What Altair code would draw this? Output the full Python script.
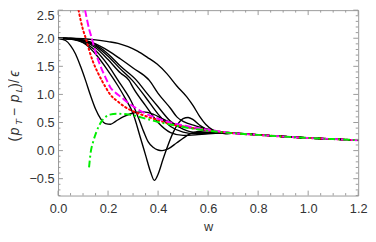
import altair as alt
import pandas as pd

# ---- data ----
late_w = [0.7, 0.8, 0.9, 1.0, 1.1, 1.2]
late_y = [0.31, 0.28, 0.25, 0.225, 0.205, 0.185]

A_w = [0, 0.03, 0.05, 0.07, 0.09, 0.11, 0.13, 0.15, 0.17, 0.19, 0.21, 0.23, 0.26, 0.3, 0.34, 0.38, 0.42, 0.46, 0.5, 0.55, 0.6, 0.65]
A_y = [2.0, 1.96, 1.87, 1.72, 1.5, 1.25, 0.98, 0.74, 0.57, 0.48, 0.47, 0.52, 0.6, 0.67, 0.69, 0.65, 0.56, 0.48, 0.43, 0.39, 0.36, 0.33]

C_w = [0, 0.05, 0.1, 0.15, 0.2, 0.24, 0.27, 0.3, 0.33, 0.35, 0.37, 0.385, 0.4, 0.42, 0.44, 0.46, 0.48, 0.5, 0.52, 0.54, 0.57, 0.6, 0.65]
C_y = [2.0, 1.985, 1.92, 1.72, 1.42, 1.15, 0.92, 0.66, 0.22, -0.08, -0.38, -0.53, -0.42, -0.15, 0.1, 0.32, 0.48, 0.57, 0.59, 0.55, 0.44, 0.37, 0.33]

D_w = [0, 0.05, 0.1, 0.15, 0.2, 0.24, 0.27, 0.29, 0.32, 0.344, 0.36, 0.38, 0.4, 0.416, 0.44, 0.475, 0.5, 0.53, 0.56, 0.6, 0.65]
D_y = [2.0, 1.99, 1.93, 1.78, 1.52, 1.25, 1.05, 0.9, 0.6, 0.32, 0.16, 0.06, 0.01, 0.0, 0.03, 0.14, 0.22, 0.3, 0.34, 0.35, 0.33]

E_w = [0, 0.05, 0.1, 0.15, 0.2, 0.25, 0.284, 0.3, 0.35, 0.4, 0.45, 0.5, 0.55, 0.6, 0.65]
E_y = [2.0, 1.99, 1.95, 1.83, 1.62, 1.38, 1.25, 1.12, 0.8, 0.5, 0.32, 0.27, 0.28, 0.3, 0.31]

F_w = [0, 0.05, 0.1, 0.15, 0.2, 0.25, 0.297, 0.35, 0.4, 0.45, 0.5, 0.55, 0.6, 0.65]
F_y = [2.0, 1.99, 1.96, 1.86, 1.68, 1.45, 1.25, 0.95, 0.65, 0.43, 0.33, 0.3, 0.31, 0.32]

G_w = [0, 0.05, 0.1, 0.15, 0.2, 0.25, 0.314, 0.35, 0.4, 0.45, 0.5, 0.55, 0.6, 0.65]
G_y = [2.0, 1.99, 1.96, 1.88, 1.72, 1.5, 1.25, 1.05, 0.78, 0.52, 0.38, 0.32, 0.32, 0.32]

I_w = [0, 0.05, 0.1, 0.15, 0.2, 0.25, 0.3, 0.365, 0.4, 0.45, 0.475, 0.5, 0.55, 0.6, 0.65]
I_y = [2.0, 2.0, 1.97, 1.9, 1.78, 1.63, 1.47, 1.25, 1.02, 0.75, 0.6, 0.52, 0.44, 0.38, 0.33]

H_w = [0, 0.05, 0.1, 0.15, 0.2, 0.24, 0.28, 0.318, 0.357, 0.396, 0.435, 0.475, 0.514, 0.54, 0.566, 0.59, 0.618, 0.645, 0.67]
H_y = [2.0, 2.0, 1.99, 1.97, 1.94, 1.91, 1.85, 1.77, 1.66, 1.54, 1.37, 1.15, 0.96, 0.8, 0.61, 0.47, 0.37, 0.32, 0.3]

red_w = [0.082, 0.09, 0.1, 0.111, 0.125, 0.14, 0.16, 0.19, 0.21, 0.24, 0.27, 0.3, 0.34, 0.4, 0.45, 0.5, 0.6, 0.65]
red_y = [2.5, 2.33, 2.15, 2.0, 1.78, 1.58, 1.38, 1.13, 0.99, 0.87, 0.77, 0.7, 0.63, 0.54, 0.47, 0.43, 0.36, 0.335]

mag_w = [0.108, 0.115, 0.125, 0.135, 0.15, 0.17, 0.19, 0.21, 0.23, 0.25, 0.28, 0.31, 0.35, 0.4, 0.45, 0.5, 0.6, 0.65]
mag_y = [2.5, 2.35, 2.15, 2.0, 1.75, 1.5, 1.3, 1.12, 1.03, 0.96, 0.85, 0.76, 0.66, 0.57, 0.5, 0.45, 0.37, 0.34]

grn_w = [0.124, 0.13, 0.14, 0.154, 0.174, 0.19, 0.207, 0.24, 0.285, 0.35, 0.4, 0.455, 0.5, 0.6, 0.65]
grn_y = [-0.3, -0.05, 0.15, 0.34, 0.52, 0.6, 0.64, 0.655, 0.64, 0.57, 0.51, 0.46, 0.42, 0.355, 0.33]

x_major = [0.0, 0.2, 0.4, 0.6, 0.8, 1.0, 1.2]
x_minor = [0.05, 0.1, 0.15, 0.25, 0.3, 0.35, 0.45, 0.5, 0.55, 0.65, 0.7, 0.75, 0.85, 0.9, 0.95, 1.05, 1.1, 1.15]
y_major = [-0.5, 0.0, 0.5, 1.0, 1.5, 2.0, 2.5]
y_minor = [-0.8, -0.7, -0.6, -0.4, -0.3, -0.2, -0.1, 0.1, 0.2, 0.3, 0.4, 0.6, 0.7, 0.8, 0.9,
           1.1, 1.2, 1.3, 1.4, 1.6, 1.7, 1.8, 1.9, 2.1, 2.2, 2.3, 2.4]

W, H = 306, 189
TOP = 8
FRAME = "#9a9a9a"
FONT = "Liberation Sans"
TXT = "#333333"


def curve_df(ws, ys, name):
    return pd.DataFrame({"w": list(ws) + late_w, "y": list(ys) + late_y, "c": name})


black = pd.concat([curve_df(A_w, A_y, "A"), curve_df(C_w, C_y, "C"), curve_df(D_w, D_y, "D"),
                   curve_df(E_w, E_y, "E"), curve_df(F_w, F_y, "F"), curve_df(G_w, G_y, "G"),
                   curve_df(I_w, I_y, "I"), curve_df(H_w, H_y, "H")])

xs = alt.Scale(domain=[0, 1.2], nice=False, zero=False)
ys = alt.Scale(domain=[-0.8, 2.5], nice=False, zero=False)

x_axis = alt.Axis(values=x_major, format=".1f", ticks=False, domain=False, grid=False,
                  labelOverlap=False, labelFlush=False, labelPadding=7, labelFontSize=13, labelFont=FONT,
                  labelColor=TXT, title="w", titleFontSize=13, titleFont=FONT,
                  titleFontWeight="normal", titleColor=TXT, titlePadding=6)
y_axis = alt.Axis(values=y_major, format=".1f", ticks=False, domain=False, grid=False,
                  labelOverlap=False, labelFlush=True, labelPadding=4, labelFontSize=13,
                  labelFont=FONT, labelColor=TXT, title=None)


def X():
    return alt.X("w:Q", scale=xs, axis=x_axis)


def Y():
    return alt.Y("y:Q", scale=ys, axis=y_axis)


black_lines = alt.Chart(black).mark_line(color="black", strokeWidth=1.4, interpolate="monotone", clip=True).encode(
    x=X(), y=Y(), detail="c:N")

red = alt.Chart(pd.DataFrame({"w": red_w + late_w, "y": red_y + late_y})).mark_line(
    color="#ff0000", strokeWidth=2, strokeDash=[1.5, 3], strokeCap="round", interpolate="monotone", clip=True
).encode(x=X(), y=Y())
mag = alt.Chart(pd.DataFrame({"w": mag_w + late_w, "y": mag_y + late_y})).mark_line(
    color="#ff00ff", strokeWidth=2, strokeDash=[7, 3], interpolate="monotone", clip=True
).encode(x=X(), y=Y())
grn = alt.Chart(pd.DataFrame({"w": grn_w + late_w, "y": grn_y + late_y})).mark_line(
    color="#00ee00", strokeWidth=2, strokeDash=[7, 3, 2, 3], interpolate="monotone", clip=True
).encode(x=X(), y=Y())


def xticks(vals, L):
    d = pd.DataFrame({"w": vals})
    b = alt.Chart(d).mark_rule(color=FRAME, strokeWidth=1).encode(x=X(), y=alt.value(H), y2=alt.value(H - L))
    t = alt.Chart(d).mark_rule(color=FRAME, strokeWidth=1).encode(x=X(), y=alt.value(0), y2=alt.value(L))
    return b + t


def yticks(vals, L):
    d = pd.DataFrame({"y": vals})
    l = alt.Chart(d).mark_rule(color=FRAME, strokeWidth=1).encode(y=Y(), x=alt.value(0), x2=alt.value(L))
    r = alt.Chart(d).mark_rule(color=FRAME, strokeWidth=1).encode(y=Y(), x=alt.value(W), x2=alt.value(W - L))
    return l + r


def piece(txt, xpos, abs_y, size, italic=False):
    return alt.Chart(pd.DataFrame({"t": [txt]})).mark_text(
        angle=270, align="left", baseline="middle", font=FONT, fontSize=size, color=TXT,
        fontStyle="italic" if italic else "normal"
    ).encode(text="t:N", x=alt.value(xpos), y=alt.value(abs_y - TOP))


tx = -44
title_layers = [
    piece("(", tx, 142, 14),
    piece("p", tx, 135.5, 14, True),
    piece("T", tx + 4, 125, 10, True),
    piece("\u2212", tx, 116, 14),
    piece("p", tx, 102, 14, True),
    piece("L", tx + 4, 92, 10, True),
    piece(")/", tx, 87, 14),
    piece("\u03f5", tx, 76, 14, True),
]

chart = alt.layer(
    black_lines, red, mag, grn,
    xticks(x_major, 5), xticks(x_minor, 2.5), yticks(y_major, 5), yticks(y_minor, 2.5),
    *title_layers
).properties(
    width=W, height=H, autosize=alt.AutoSizeParams(type="none"),
    padding={"left": 51, "top": TOP - 8, "right": 10, "bottom": 36}
).configure_view(stroke=FRAME, strokeWidth=1).configure_axis(labelOverlap=False)

chart.save("out.html", embed_options={"renderer": "svg", "actions": False})
